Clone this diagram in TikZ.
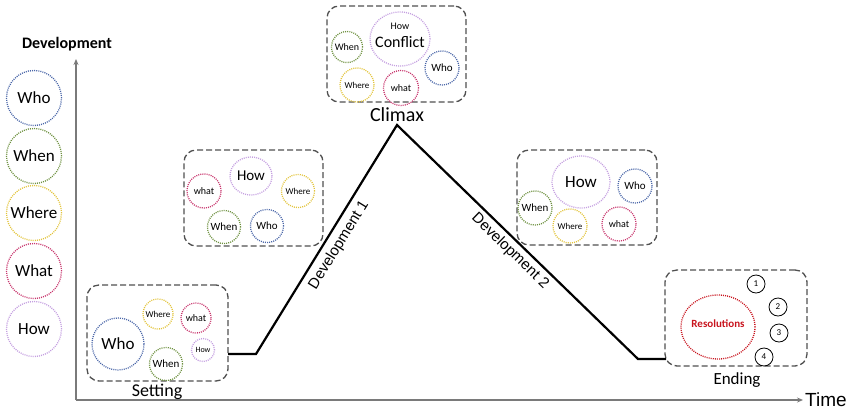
\documentclass[tikz,border=0pt]{standalone}
\usepackage{fontspec}
\setmainfont{Carlito}
\newfontfamily\arialf{Liberation Sans}
\usetikzlibrary{shapes.geometric,arrows.meta}
\definecolor{cWho}{HTML}{4A66A8}
\definecolor{cWhen}{HTML}{6E9140}
\definecolor{cWhere}{HTML}{E2C43C}
\definecolor{cWhat}{HTML}{C8376E}
\definecolor{cHow}{HTML}{C49FE0}
\definecolor{cRes}{HTML}{C8141E}
\definecolor{cBox}{HTML}{505050}
\definecolor{cAxis}{HTML}{7A7A7A}
\newcommand\fz[1]{\fontsize{#1}{#1}\selectfont}
\begin{document}
\begin{tikzpicture}[x=1pt,y=-1pt,
  dc/.style={circle, draw=#1, line width=1.3pt, dash pattern=on 1pt off 1.1pt, inner sep=0pt, text=black},
  de/.style={ellipse, draw=#1, line width=1.3pt, dash pattern=on 1pt off 1.1pt, inner sep=0pt, text=black},
  stbox/.style={draw=cBox, line width=1.3pt, dash pattern=on 6pt off 3pt, rounded corners=12pt, inner sep=0pt},
  numc/.style={circle, draw=black, line width=0.8pt, minimum size=18pt, inner sep=0pt, font=\fz{9}},
  axisln/.style={draw=cAxis, line width=1.6pt, -{Stealth[length=6pt,width=5pt]}},
  plotln/.style={draw=black, line width=2.2pt, line join=miter},
  lbl/.style={inner sep=0pt, text=black}]
\useasboundingbox (0,0) rectangle (858,410);

% axes
\coordinate (org) at (76,400);
\coordinate (ytop) at (76,59);
\coordinate (xend) at (803,400);
\draw[axisln] (org) -- (ytop);
\draw[axisln] (org) -- (xend);
\node[lbl, font=\fz{16}\bfseries, anchor=center] (devt) at (67,44) {Development};
\node[lbl, font=\arialf\fz{19}, anchor=west] (timet) at (805,400) {Time};

% legend
\node[dc=cWho, minimum size=55pt, font=\fz{17}] (lwho) at (34,98) {Who};
\node[dc=cWhen, minimum size=55pt, font=\fz{17}] (lwhen) at (34,156) {When};
\node[dc=cWhere, minimum size=55pt, font=\fz{17}] (lwhere) at (34,213) {Where};
\node[dc=cWhat, minimum size=55pt, font=\fz{17}] (lwhat) at (34,271) {What};
\node[dc=cHow, minimum size=55pt, font=\fz{17}] (lhow) at (34,329) {How};

% boxes
\node[stbox, minimum width=141pt, minimum height=96pt] (sbox) at (157.5,333) {};
\node[stbox, minimum width=139pt, minimum height=96pt] (dbox) at (253.5,198) {};
\node[stbox, minimum width=139pt, minimum height=96pt] (cbox) at (396.5,54) {};
\node[stbox, minimum width=140pt, minimum height=95pt] (ebox2) at (587,197.5) {};
\node[stbox, minimum width=142pt, minimum height=96pt] (ebox) at (736,318) {};

% box labels
\node[lbl, font=\fz{18}] (setl) at (157,392) {Setting};
\node[lbl, font=\fz{20}] (clil) at (397,115) {Climax};
\node[lbl, font=\fz{17}] (endl) at (737,380) {Ending};

% setting circles
\node[dc=cWho, minimum size=52pt, font=\fz{17}] (s1) at (118,344) {Who};
\node[dc=cWhere, minimum size=30pt, font=\fz{9}] (s2) at (158,314) {Where};
\node[dc=cWhat, minimum size=30pt, font=\fz{10}] (s3) at (196,318) {what};
\node[dc=cHow, minimum size=23pt, font=\fz{8}] (s4) at (203,350) {How};
\node[dc=cWhen, minimum size=33pt, font=\fz{11}] (s5) at (166,364) {When};

% development 1 circles
\node[de=cHow, minimum width=42pt, minimum height=38pt, font=\fz{15}] (a1) at (251,176) {How};
\node[dc=cWhat, minimum size=34pt, font=\fz{10}] (a2) at (204,191) {what};
\node[dc=cWhere, minimum size=33pt, font=\fz{9}] (a3) at (298,191) {Where};
\node[dc=cWhen, minimum size=33pt, font=\fz{11}] (a4) at (224,227) {When};
\node[dc=cWho, minimum size=33pt, font=\fz{11}] (a5) at (267,226) {Who};

% climax circles
\node[de=cHow, minimum width=60pt, minimum height=54pt] (b1) at (400,39) {};
\node[lbl, font=\fz{10}] (b1a) at (400,26) {How};
\node[lbl, font=\fz{16}] (b1b) at (400,42) {Conflict};
\node[dc=cWhen, minimum size=31pt, font=\fz{10}] (b2) at (347,47) {When};
\node[dc=cWho, minimum size=34pt, font=\fz{11}] (b3) at (442,68) {Who};
\node[dc=cWhere, minimum size=34pt, font=\fz{9}] (b4) at (357,85) {Where};
\node[dc=cWhat, minimum size=35pt, font=\fz{10}] (b5) at (401,88) {what};

% development 2 circles
\node[de=cHow, minimum width=58pt, minimum height=52pt, font=\fz{17}] (c1) at (581,182) {How};
\node[dc=cWho, minimum size=34pt, font=\fz{11}] (c2) at (635,186) {Who};
\node[dc=cWhen, minimum size=34pt, font=\fz{11}] (c3) at (535,208) {When};
\node[dc=cWhere, minimum size=34pt, font=\fz{9}] (c4) at (570,226) {Where};
\node[dc=cWhat, minimum size=34pt, font=\fz{10}] (c5) at (619,224) {what};

% ending
\node[de=cRes, minimum width=74pt, minimum height=64pt] (res) at (718,327) {};
\node[lbl, font=\fz{11}\bfseries, text=cRes] (rest) at (718,324) {Resolutions};
\node[numc] (n1) at (756,284) {1};
\node[numc] (n2) at (778,307) {2};
\node[numc] (n3) at (779,333) {3};
\node[numc] (n4) at (764,357) {4};

% main plot
\coordinate (p0) at (228,354);
\coordinate (p1) at (256,354);
\coordinate (peak) at (397,125);
\coordinate (p2) at (638,359);
\coordinate (p3) at (666,359);
\draw[plotln] (p0) -- (p1) -- (peak) -- (p2) -- (p3);

\node[lbl, font=\arialf\fz{15}, rotate=58.4] (dev1) at (339,245) {Development 1};
\node[lbl, font=\arialf\fz{15}, rotate=-44] (dev2) at (510,251) {Development 2};
\end{tikzpicture}
\end{document}
